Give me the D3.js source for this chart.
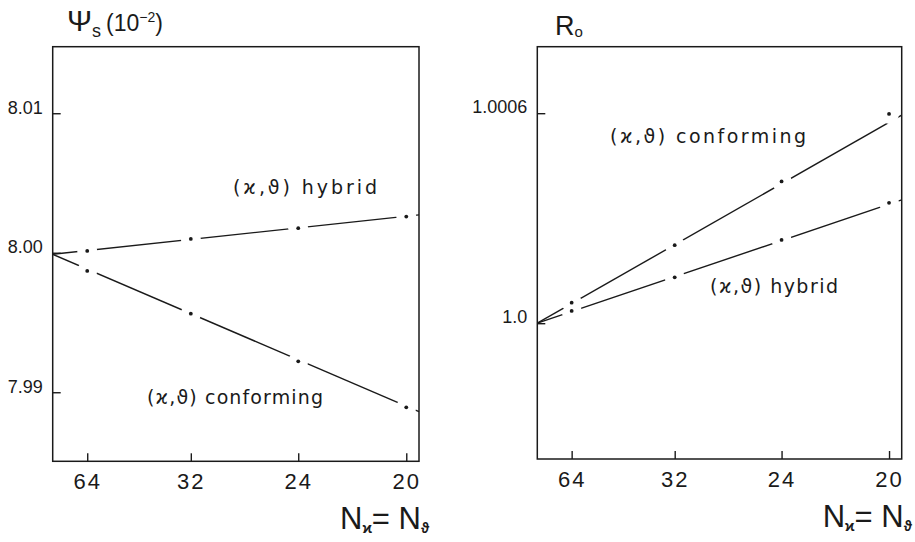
<!DOCTYPE html>
<html>
<head>
<meta charset="utf-8">
<script src="https://cdn.jsdelivr.net/npm/d3@7"></script>
<style>
  html, body { margin: 0; padding: 0; background: #fff; }
  svg { display: block; }
  .tick line { stroke: #1a1a1a; stroke-width: 1.4; }
  .ylab { font-family: "Liberation Sans", Arial, sans-serif; font-size: 18px; fill: #1a1a1a; }
  .xlab { font-family: "Liberation Sans Narrow", "Liberation Sans", sans-serif; font-size: 22px; fill: #1a1a1a; letter-spacing: 2px; }
  .note { font-family: "DejaVu Sans", sans-serif; font-size: 19px; fill: #1a1a1a; }
  .title { font-family: "Liberation Sans", Arial, sans-serif; fill: #1a1a1a; }
</style>
</head>
<body>
<div id="chart"></div>
<script>
// grid sizes on the x axis (plotted against 1/N^2)
const nGrid = [64, 32, 24, 20];
const xTickLabels = ["64", "32", "24", "20"];

// left panel: Psi_s (10^-2)
const psiHybrid = [8.00013, 8.00099, 8.00176, 8.00259];
const psiConforming = [7.9987, 7.99563, 7.99222, 7.98892];
// straight lines drawn in the figure: value at N = infinity and at N = 20
const psiHybridFit = [7.99989, 8.00262];
const psiConformingFit = [7.99989, 7.98900];
const psiTicks = [7.99, 8.00, 8.01];
const psiTickLabels = ["7.99", "8.00", "8.01"];

// right panel: R_o
const rHybrid = [1.0000351, 1.000131, 1.000238, 1.000344];
const rConforming = [1.0000586, 1.000223, 1.000405, 1.000598];
const rHybridFit = [1.0, 1.00034];
const rConformingFit = [1.0, 1.000574];
const rTicks = [1.0, 1.0006];
const rTickLabels = ["1.0", "1.0006"];

const width = 915;
const height = 542;
const xMax = 0.00259;
const invSq = n => 1 / (n * n);

const svg = d3.select("#chart").append("svg")
  .attr("width", width)
  .attr("height", height);
const defs = svg.append("defs");

let drawPanel = (p) => {
  let x = d3.scaleLinear().domain([0, xMax]).range([p.left, p.right]);
  let y = d3.scaleLinear().domain(p.yDomain).range([p.bottom, p.top]);

  // series: line with a gap around each computed point
  p.series.forEach(function(s) {
    let fit = d3.scaleLinear().domain([0, invSq(20)]).range(s.fit);
    let line = d3.line()
      .x(function(d) { return x(d); })
      .y(function(d) { return y(fit(d)); });

    let mask = defs.append("mask").attr("id", s.id)
      .attr("maskUnits", "userSpaceOnUse")
      .attr("x", 0).attr("y", 0).attr("width", width).attr("height", height);
    mask.append("rect").attr("width", width).attr("height", height).attr("fill", "#fff");
    mask.selectAll("circle")
      .data(s.values)
      .enter().append("circle")
      .attr("cx", function(d, i) { return x(invSq(nGrid[i])); })
      .attr("cy", function(d) { return y(d); })
      .attr("r", 10)
      .attr("fill", "#000");

    svg.append("path")
      .attr("d", line([0, xMax]))
      .attr("fill", "none")
      .attr("stroke", "#1a1a1a")
      .attr("stroke-width", 1.4)
      .attr("mask", "url(#" + s.id + ")");

    svg.selectAll(null)
      .data(s.values)
      .enter().append("circle")
      .attr("cx", function(d, i) { return x(invSq(nGrid[i])); })
      .attr("cy", function(d) { return y(d); })
      .attr("r", 1.9)
      .attr("fill", "#1a1a1a");

    svg.append("text")
      .attr("class", "note")
      .attr("x", s.label.x)
      .attr("y", s.label.y)
      .attr("textLength", s.label.w)
      .attr("lengthAdjust", "spacing")
      .text("(ϰ,ϑ) " + s.name);
  });

  // frame
  svg.append("rect")
    .attr("x", p.left).attr("y", p.top)
    .attr("width", p.right - p.left).attr("height", p.bottom - p.top)
    .attr("fill", "none")
    .attr("stroke", "#1a1a1a")
    .attr("stroke-width", 1.5);

  let xAxis = d3.axisBottom(x)
    .tickValues(nGrid.map(invSq))
    .tickFormat(function(d, i) { return xTickLabels[i]; })
    .tickSizeInner(-8).tickSizeOuter(0).tickPadding(12);
  let gx = svg.append("g")
    .attr("transform", "translate(0," + p.bottom + ")")
    .call(xAxis);
  gx.select(".domain").remove();
  gx.selectAll("text").attr("class", "xlab").attr("font-family", null).attr("font-size", null);

  let yAxis = d3.axisLeft(y)
    .tickValues(p.ticks)
    .tickFormat(function(d, i) { return p.tickLabels[i]; })
    .tickSizeInner(-8).tickSizeOuter(0).tickPadding(10);
  let gy = svg.append("g")
    .attr("transform", "translate(" + p.left + ",0)")
    .call(yAxis);
  gy.select(".domain").remove();
  gy.selectAll("text").attr("class", "ylab").attr("font-family", null).attr("font-size", null)
    .attr("y", -6);

  // N_x = N_theta
  let xl = svg.append("text").attr("class", "title")
    .attr("x", p.right - 79).attr("y", p.bottom + 68);
  xl.append("tspan").attr("font-size", 31).text("N");
  xl.append("tspan").attr("font-size", 14).attr("font-weight", "bold").attr("dy", 4).text("ϰ");
  xl.append("tspan").attr("font-size", 31).attr("dy", -4).text("= N");
  xl.append("tspan").attr("font-size", 14).attr("font-weight", "bold").attr("dy", 4).text("ϑ");
};

drawPanel({
  left: 52.7, right: 419, top: 46.7, bottom: 461.3,
  yDomain: [7.98505, 8.01477],
  ticks: psiTicks, tickLabels: psiTickLabels,
  series: [
    { id: "m1", name: "hybrid", values: psiHybrid, fit: psiHybridFit, label: { x: 233, y: 194, w: 144 } },
    { id: "m2", name: "conforming", values: psiConforming, fit: psiConformingFit, label: { x: 147, y: 404, w: 176 } }
  ]
});

drawPanel({
  left: 537.3, right: 901.7, top: 46.7, bottom: 459,
  yDomain: [0.999612, 1.00079],
  ticks: rTicks, tickLabels: rTickLabels,
  series: [
    { id: "m3", name: "hybrid", values: rHybrid, fit: rHybridFit, label: { x: 710, y: 293, w: 128 } },
    { id: "m4", name: "conforming", values: rConforming, fit: rConformingFit, label: { x: 610, y: 143, w: 196 } }
  ]
});

// y axis titles
let t1 = svg.append("text").attr("class", "title").attr("x", 67).attr("y", 31);
t1.append("tspan").attr("font-size", 30).text("Ψ");
t1.append("tspan").attr("font-size", 18).attr("dy", 6).text("s");
t1.append("tspan").attr("font-size", 23).attr("dy", -6).attr("dx", 5).text("(10");
t1.append("tspan").attr("font-size", 14).attr("dy", -9).text("−2");
t1.append("tspan").attr("font-size", 23).attr("dy", 9).text(")");

let t2 = svg.append("text").attr("class", "title").attr("x", 555).attr("y", 35);
t2.append("tspan").attr("font-size", 27).text("R");
t2.append("tspan").attr("font-size", 15).attr("dy", 2).text("o");
</script>
</body>
</html>
